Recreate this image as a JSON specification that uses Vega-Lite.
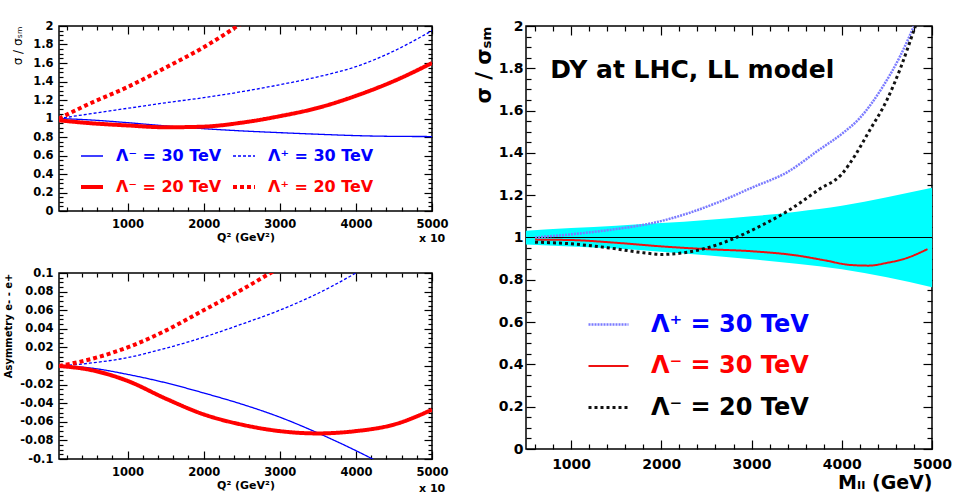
{
  "$schema": "https://vega.github.io/schema/vega-lite/v6.json",
  "padding": {"left": 3, "top": 18, "right": 5, "bottom": 5},
  "autosize": {"type": "pad"},
  "background": "white",
  "config": {
    "font": "DejaVu Sans",
    "view": {"stroke": "black", "strokeWidth": 1.5},
    "axis": {"domain": false, "grid": false, "ticks": true, "tickColor": "black", "tickWidth": 1.2, "labelFont": "DejaVu Sans", "labelFontWeight": "bold", "labelColor": "black", "titleFont": "DejaVu Sans", "titleFontWeight": "bold", "titleColor": "black", "labelFlush": false, "labelOverlap": false, "format": "d", "zindex": 1},
    "legend": {"labelFont": "DejaVu Sans", "labelFontWeight": "bold"}
  },
  "datasets": {
    "tl": [
      {"series": "Λ⁻ = 30 TeV", "q2": 100, "ratio": 1.0}, {"series": "Λ⁻ = 30 TeV", "q2": 500, "ratio": 0.985}, {"series": "Λ⁻ = 30 TeV", "q2": 1000, "ratio": 0.955}, {"series": "Λ⁻ = 30 TeV", "q2": 1500, "ratio": 0.92}, {"series": "Λ⁻ = 30 TeV", "q2": 2000, "ratio": 0.89}, {"series": "Λ⁻ = 30 TeV", "q2": 2500, "ratio": 0.866}, {"series": "Λ⁻ = 30 TeV", "q2": 3000, "ratio": 0.847}, {"series": "Λ⁻ = 30 TeV", "q2": 3500, "ratio": 0.83}, {"series": "Λ⁻ = 30 TeV", "q2": 4000, "ratio": 0.815}, {"series": "Λ⁻ = 30 TeV", "q2": 4500, "ratio": 0.807}, {"series": "Λ⁻ = 30 TeV", "q2": 5000, "ratio": 0.805},
      {"series": "Λ⁺ = 30 TeV", "q2": 100, "ratio": 1.0}, {"series": "Λ⁺ = 30 TeV", "q2": 500, "ratio": 1.05}, {"series": "Λ⁺ = 30 TeV", "q2": 1000, "ratio": 1.11}, {"series": "Λ⁺ = 30 TeV", "q2": 1500, "ratio": 1.17}, {"series": "Λ⁺ = 30 TeV", "q2": 2000, "ratio": 1.225}, {"series": "Λ⁺ = 30 TeV", "q2": 2500, "ratio": 1.29}, {"series": "Λ⁺ = 30 TeV", "q2": 3000, "ratio": 1.365}, {"series": "Λ⁺ = 30 TeV", "q2": 3500, "ratio": 1.45}, {"series": "Λ⁺ = 30 TeV", "q2": 4000, "ratio": 1.56}, {"series": "Λ⁺ = 30 TeV", "q2": 4500, "ratio": 1.73}, {"series": "Λ⁺ = 30 TeV", "q2": 5000, "ratio": 1.95},
      {"series": "Λ⁻ = 20 TeV", "q2": 100, "ratio": 0.98}, {"series": "Λ⁻ = 20 TeV", "q2": 500, "ratio": 0.95}, {"series": "Λ⁻ = 20 TeV", "q2": 1000, "ratio": 0.925}, {"series": "Λ⁻ = 20 TeV", "q2": 1500, "ratio": 0.905}, {"series": "Λ⁻ = 20 TeV", "q2": 2000, "ratio": 0.912}, {"series": "Λ⁻ = 20 TeV", "q2": 2500, "ratio": 0.955}, {"series": "Λ⁻ = 20 TeV", "q2": 3000, "ratio": 1.025}, {"series": "Λ⁻ = 20 TeV", "q2": 3500, "ratio": 1.115}, {"series": "Λ⁻ = 20 TeV", "q2": 4000, "ratio": 1.245}, {"series": "Λ⁻ = 20 TeV", "q2": 4500, "ratio": 1.405}, {"series": "Λ⁻ = 20 TeV", "q2": 5000, "ratio": 1.6},
      {"series": "Λ⁺ = 20 TeV", "q2": 100, "ratio": 1.0}, {"series": "Λ⁺ = 20 TeV", "q2": 500, "ratio": 1.16}, {"series": "Λ⁺ = 20 TeV", "q2": 1000, "ratio": 1.34}, {"series": "Λ⁺ = 20 TeV", "q2": 1500, "ratio": 1.55}, {"series": "Λ⁺ = 20 TeV", "q2": 2000, "ratio": 1.77}, {"series": "Λ⁺ = 20 TeV", "q2": 2500, "ratio": 2.03}
    ],
    "bl": [
      {"series": "Λ⁻ = 30 TeV", "q2": 100, "asym": 0}, {"series": "Λ⁻ = 30 TeV", "q2": 500, "asym": -0.002}, {"series": "Λ⁻ = 30 TeV", "q2": 1000, "asym": -0.009}, {"series": "Λ⁻ = 30 TeV", "q2": 1500, "asym": -0.018}, {"series": "Λ⁻ = 30 TeV", "q2": 2000, "asym": -0.029}, {"series": "Λ⁻ = 30 TeV", "q2": 2500, "asym": -0.041}, {"series": "Λ⁻ = 30 TeV", "q2": 3000, "asym": -0.055}, {"series": "Λ⁻ = 30 TeV", "q2": 3500, "asym": -0.072}, {"series": "Λ⁻ = 30 TeV", "q2": 4000, "asym": -0.091}, {"series": "Λ⁻ = 30 TeV", "q2": 4500, "asym": -0.112},
      {"series": "Λ⁺ = 30 TeV", "q2": 100, "asym": 0}, {"series": "Λ⁺ = 30 TeV", "q2": 500, "asym": 0.003}, {"series": "Λ⁺ = 30 TeV", "q2": 1000, "asym": 0.009}, {"series": "Λ⁺ = 30 TeV", "q2": 1500, "asym": 0.019}, {"series": "Λ⁺ = 30 TeV", "q2": 2000, "asym": 0.031}, {"series": "Λ⁺ = 30 TeV", "q2": 2500, "asym": 0.045}, {"series": "Λ⁺ = 30 TeV", "q2": 3000, "asym": 0.06}, {"series": "Λ⁺ = 30 TeV", "q2": 3500, "asym": 0.078}, {"series": "Λ⁺ = 30 TeV", "q2": 4000, "asym": 0.1}, {"series": "Λ⁺ = 30 TeV", "q2": 4500, "asym": 0.125},
      {"series": "Λ⁻ = 20 TeV", "q2": 100, "asym": 0}, {"series": "Λ⁻ = 20 TeV", "q2": 500, "asym": -0.004}, {"series": "Λ⁻ = 20 TeV", "q2": 1000, "asym": -0.016}, {"series": "Λ⁻ = 20 TeV", "q2": 1500, "asym": -0.035}, {"series": "Λ⁻ = 20 TeV", "q2": 2000, "asym": -0.052}, {"series": "Λ⁻ = 20 TeV", "q2": 2500, "asym": -0.063}, {"series": "Λ⁻ = 20 TeV", "q2": 3000, "asym": -0.07}, {"series": "Λ⁻ = 20 TeV", "q2": 3500, "asym": -0.0725}, {"series": "Λ⁻ = 20 TeV", "q2": 4000, "asym": -0.07}, {"series": "Λ⁻ = 20 TeV", "q2": 4500, "asym": -0.063}, {"series": "Λ⁻ = 20 TeV", "q2": 5000, "asym": -0.047},
      {"series": "Λ⁺ = 20 TeV", "q2": 100, "asym": 0}, {"series": "Λ⁺ = 20 TeV", "q2": 500, "asym": 0.007}, {"series": "Λ⁺ = 20 TeV", "q2": 1000, "asym": 0.02}, {"series": "Λ⁺ = 20 TeV", "q2": 1500, "asym": 0.038}, {"series": "Λ⁺ = 20 TeV", "q2": 2000, "asym": 0.06}, {"series": "Λ⁺ = 20 TeV", "q2": 2500, "asym": 0.082}, {"series": "Λ⁺ = 20 TeV", "q2": 3000, "asym": 0.106}
    ],
    "band": [
      {"m": 500, "lo": 0.967, "hi": 1.032}, {"m": 1000, "lo": 0.958, "hi": 1.045}, {"m": 1500, "lo": 0.948, "hi": 1.056}, {"m": 2000, "lo": 0.933, "hi": 1.068}, {"m": 2500, "lo": 0.916, "hi": 1.083}, {"m": 3000, "lo": 0.897, "hi": 1.1}, {"m": 3500, "lo": 0.876, "hi": 1.122}, {"m": 4000, "lo": 0.85, "hi": 1.15}, {"m": 4500, "lo": 0.812, "hi": 1.19}, {"m": 5000, "lo": 0.765, "hi": 1.235}
    ],
    "rc": [
      {"series": "Λ⁺ = 30 TeV", "m": 600, "ratio": 1.0}, {"series": "Λ⁺ = 30 TeV", "m": 1000, "ratio": 1.015}, {"series": "Λ⁺ = 30 TeV", "m": 1500, "ratio": 1.04}, {"series": "Λ⁺ = 30 TeV", "m": 1900, "ratio": 1.068}, {"series": "Λ⁺ = 30 TeV", "m": 2300, "ratio": 1.115}, {"series": "Λ⁺ = 30 TeV", "m": 2650, "ratio": 1.17}, {"series": "Λ⁺ = 30 TeV", "m": 3000, "ratio": 1.235}, {"series": "Λ⁺ = 30 TeV", "m": 3400, "ratio": 1.31}, {"series": "Λ⁺ = 30 TeV", "m": 3750, "ratio": 1.415}, {"series": "Λ⁺ = 30 TeV", "m": 4000, "ratio": 1.49}, {"series": "Λ⁺ = 30 TeV", "m": 4200, "ratio": 1.565}, {"series": "Λ⁺ = 30 TeV", "m": 4450, "ratio": 1.71}, {"series": "Λ⁺ = 30 TeV", "m": 4650, "ratio": 1.86}, {"series": "Λ⁺ = 30 TeV", "m": 4800, "ratio": 2.0}, {"series": "Λ⁺ = 30 TeV", "m": 4900, "ratio": 2.1},
      {"series": "Λ⁻ = 30 TeV", "m": 600, "ratio": 0.99}, {"series": "Λ⁻ = 30 TeV", "m": 1000, "ratio": 0.988}, {"series": "Λ⁻ = 30 TeV", "m": 1500, "ratio": 0.975}, {"series": "Λ⁻ = 30 TeV", "m": 2000, "ratio": 0.958}, {"series": "Λ⁻ = 30 TeV", "m": 2500, "ratio": 0.945}, {"series": "Λ⁻ = 30 TeV", "m": 3000, "ratio": 0.935}, {"series": "Λ⁻ = 30 TeV", "m": 3500, "ratio": 0.915}, {"series": "Λ⁻ = 30 TeV", "m": 3800, "ratio": 0.893}, {"series": "Λ⁻ = 30 TeV", "m": 4100, "ratio": 0.87}, {"series": "Λ⁻ = 30 TeV", "m": 4300, "ratio": 0.867}, {"series": "Λ⁻ = 30 TeV", "m": 4500, "ratio": 0.88}, {"series": "Λ⁻ = 30 TeV", "m": 4700, "ratio": 0.9}, {"series": "Λ⁻ = 30 TeV", "m": 4950, "ratio": 0.945},
      {"series": "Λ⁻ = 20 TeV", "m": 600, "ratio": 0.978}, {"series": "Λ⁻ = 20 TeV", "m": 1000, "ratio": 0.97}, {"series": "Λ⁻ = 20 TeV", "m": 1400, "ratio": 0.952}, {"series": "Λ⁻ = 20 TeV", "m": 1800, "ratio": 0.928}, {"series": "Λ⁻ = 20 TeV", "m": 2000, "ratio": 0.92}, {"series": "Λ⁻ = 20 TeV", "m": 2250, "ratio": 0.928}, {"series": "Λ⁻ = 20 TeV", "m": 2500, "ratio": 0.95}, {"series": "Λ⁻ = 20 TeV", "m": 2830, "ratio": 1.0}, {"series": "Λ⁻ = 20 TeV", "m": 3100, "ratio": 1.055}, {"series": "Λ⁻ = 20 TeV", "m": 3400, "ratio": 1.125}, {"series": "Λ⁻ = 20 TeV", "m": 3750, "ratio": 1.228}, {"series": "Λ⁻ = 20 TeV", "m": 4000, "ratio": 1.3}, {"series": "Λ⁻ = 20 TeV", "m": 4150, "ratio": 1.39}, {"series": "Λ⁻ = 20 TeV", "m": 4300, "ratio": 1.5}, {"series": "Λ⁻ = 20 TeV", "m": 4500, "ratio": 1.65}, {"series": "Λ⁻ = 20 TeV", "m": 4650, "ratio": 1.8}, {"series": "Λ⁻ = 20 TeV", "m": 4800, "ratio": 1.98}, {"series": "Λ⁻ = 20 TeV", "m": 4850, "ratio": 2.04}
    ]
  },
  "spacing": 23,
  "resolve": {"scale": {"color": "independent", "strokeDash": "independent", "strokeWidth": "independent", "x": "independent", "y": "independent"}, "legend": {"color": "independent", "strokeDash": "independent", "strokeWidth": "independent"}},
  "hconcat": [
    {
      "bounds": "flush",
      "spacing": 62,
      "resolve": {"scale": {"color": "independent", "strokeDash": "independent", "strokeWidth": "independent", "x": "independent", "y": "independent"}, "legend": {"color": "independent", "strokeDash": "independent", "strokeWidth": "independent"}},
      "vconcat": [
        {
          "width": 373,
          "height": 185,
          "data": {"name": "tl"},
          "resolve": {"axis": {"x": "independent", "y": "independent"}},
          "layer": [
            {
              "mark": {"type": "line", "clip": true, "interpolate": "monotone"},
              "encoding": {
                "x": {"field": "q2", "type": "quantitative", "scale": {"domain": [100, 5000], "nice": false, "zero": false},
                  "axis": {"orient": "bottom", "values": [1000, 2000, 3000, 4000, 5000], "offset": -8, "tickSize": 8, "labelPadding": 7, "labelFontSize": 11.5, "title": "Q² (GeV²)", "titleFontSize": 11, "titlePadding": 2}},
                "y": {"field": "ratio", "type": "quantitative", "scale": {"domain": [0, 2], "nice": false, "zero": false},
                  "axis": {"orient": "left", "values": [0, 0.2, 0.4, 0.6, 0.8, 1, 1.2, 1.4, 1.6, 1.8, 2], "labelExpr": "'' + datum.value", "offset": -8, "tickSize": 8, "labelPadding": 6, "labelFontSize": 11.5, "title": "σ / σₛₘ", "titleAnchor": "end", "titleFontSize": 12, "titleFontWeight": "normal", "titlePadding": 8}},
                "color": {"field": "series", "type": "nominal",
                  "scale": {"domain": ["Λ⁻ = 30 TeV", "Λ⁻ = 20 TeV", "Λ⁺ = 30 TeV", "Λ⁺ = 20 TeV"], "range": ["#0000ff", "#ff0000", "#0000ff", "#ff0000"]},
                  "legend": {"orient": "none", "legendX": 20, "legendY": 118, "columns": 2, "title": null, "symbolType": "stroke", "symbolSize": 484, "labelFontSize": 16, "labelOffset": 11, "columnPadding": 3, "rowPadding": 10, "padding": 0, "labelLimit": 400,
                    "encode": {"labels": {"update": {"fill": {"signal": "indexof(datum.label, '30') >= 0 ? '#0000ff' : '#ff0000'"}}}}}},
                "strokeDash": {"field": "series", "type": "nominal", "scale": {"domain": ["Λ⁻ = 30 TeV", "Λ⁻ = 20 TeV", "Λ⁺ = 30 TeV", "Λ⁺ = 20 TeV"], "range": [[1, 0], [1, 0], [3, 2], [4, 3]]}},
                "strokeWidth": {"field": "series", "type": "nominal", "scale": {"type": "ordinal", "domain": ["Λ⁻ = 30 TeV", "Λ⁻ = 20 TeV", "Λ⁺ = 30 TeV", "Λ⁺ = 20 TeV"], "range": [1.3, 4, 1.3, 4]}}
              }
            },
            {
              "mark": {"type": "point", "opacity": 0, "clip": true},
              "encoding": {
                "x": {"field": "q2", "type": "quantitative", "axis": {"orient": "top", "values": [1000, 2000, 3000, 4000, 5000], "offset": -8, "tickSize": 8, "labels": false, "title": null}},
                "y": {"field": "ratio", "type": "quantitative", "axis": {"orient": "right", "values": [0, 0.2, 0.4, 0.6, 0.8, 1, 1.2, 1.4, 1.6, 1.8, 2], "offset": -8, "tickSize": 8, "labels": false, "title": null}}
              }
            },
            {
              "mark": {"type": "point", "opacity": 0, "clip": true},
              "encoding": {
                "x": {"field": "q2", "type": "quantitative", "axis": {"orient": "bottom", "values": [200,400,600,800,1200,1400,1600,1800,2200,2400,2600,2800,3200,3400,3600,3800,4200,4400,4600,4800], "offset": -4, "tickSize": 4, "labels": false, "title": null}},
                "y": {"field": "ratio", "type": "quantitative", "axis": {"orient": "left", "values": [0.05,0.1,0.15,0.25,0.3,0.35,0.45,0.5,0.55,0.65,0.7,0.75,0.85,0.9,0.95,1.05,1.1,1.15,1.25,1.3,1.35,1.45,1.5,1.55,1.65,1.7,1.75,1.85,1.9,1.95], "offset": -4, "tickSize": 4, "labels": false, "title": null}}
              }
            },
            {
              "mark": {"type": "point", "opacity": 0, "clip": true},
              "encoding": {
                "x": {"field": "q2", "type": "quantitative", "axis": {"orient": "top", "values": [200,400,600,800,1200,1400,1600,1800,2200,2400,2600,2800,3200,3400,3600,3800,4200,4400,4600,4800], "offset": -4, "tickSize": 4, "labels": false, "title": null}},
                "y": {"field": "ratio", "type": "quantitative", "axis": {"orient": "right", "values": [0.05,0.1,0.15,0.25,0.3,0.35,0.45,0.5,0.55,0.65,0.7,0.75,0.85,0.9,0.95,1.05,1.1,1.15,1.25,1.3,1.35,1.45,1.5,1.55,1.65,1.7,1.75,1.85,1.9,1.95], "offset": -4, "tickSize": 4, "labels": false, "title": null}}
              }
            },
            {
              "data": {"values": [{}]},
              "mark": {"type": "text", "text": "x 10", "fontWeight": "bold", "fontSize": 11, "align": "left", "baseline": "middle", "dx": -13, "dy": 28, "clip": false},
              "encoding": {"x": {"datum": 5000, "type": "quantitative", "axis": null}, "y": {"datum": 0, "type": "quantitative", "axis": null}}
            }
          ]
        },
        {
          "width": 373,
          "height": 186,
          "data": {"name": "bl"},
          "resolve": {"axis": {"x": "independent", "y": "independent"}},
          "layer": [
            {
              "mark": {"type": "line", "clip": true, "interpolate": "monotone"},
              "encoding": {
                "x": {"field": "q2", "type": "quantitative", "scale": {"domain": [100, 5000], "nice": false, "zero": false},
                  "axis": {"orient": "bottom", "values": [1000, 2000, 3000, 4000, 5000], "offset": -8, "tickSize": 8, "labelPadding": 7, "labelFontSize": 11.5, "title": "Q² (GeV²)", "titleFontSize": 11, "titlePadding": 2}},
                "y": {"field": "asym", "type": "quantitative", "scale": {"domain": [-0.1, 0.1], "nice": false, "zero": false},
                  "axis": {"orient": "left", "values": [-0.1, -0.08, -0.06, -0.04, -0.02, 0, 0.02, 0.04, 0.06, 0.08, 0.1], "labelExpr": "'' + datum.value", "offset": -8, "tickSize": 8, "labelPadding": 6, "labelFontSize": 11.5, "title": "Asymmetry e- - e+", "titleAnchor": "end", "titleFontSize": 10, "titlePadding": 6}},
                "color": {"field": "series", "type": "nominal", "legend": null,
                  "scale": {"domain": ["Λ⁻ = 30 TeV", "Λ⁺ = 30 TeV", "Λ⁻ = 20 TeV", "Λ⁺ = 20 TeV"], "range": ["#0000ff", "#0000ff", "#ff0000", "#ff0000"]}},
                "strokeDash": {"field": "series", "type": "nominal", "legend": null, "scale": {"domain": ["Λ⁻ = 30 TeV", "Λ⁺ = 30 TeV", "Λ⁻ = 20 TeV", "Λ⁺ = 20 TeV"], "range": [[1, 0], [3, 2], [1, 0], [4, 3]]}},
                "strokeWidth": {"field": "series", "type": "nominal", "legend": null, "scale": {"type": "ordinal", "domain": ["Λ⁻ = 30 TeV", "Λ⁺ = 30 TeV", "Λ⁻ = 20 TeV", "Λ⁺ = 20 TeV"], "range": [1.3, 1.3, 4, 4]}}
              }
            },
            {
              "mark": {"type": "point", "opacity": 0, "clip": true},
              "encoding": {
                "x": {"field": "q2", "type": "quantitative", "axis": {"orient": "top", "values": [1000, 2000, 3000, 4000, 5000], "offset": -8, "tickSize": 8, "labels": false, "title": null}},
                "y": {"field": "asym", "type": "quantitative", "axis": {"orient": "right", "values": [-0.1, -0.08, -0.06, -0.04, -0.02, 0, 0.02, 0.04, 0.06, 0.08, 0.1], "offset": -8, "tickSize": 8, "labels": false, "title": null}}
              }
            },
            {
              "mark": {"type": "point", "opacity": 0, "clip": true},
              "encoding": {
                "x": {"field": "q2", "type": "quantitative", "axis": {"orient": "bottom", "values": [200,400,600,800,1200,1400,1600,1800,2200,2400,2600,2800,3200,3400,3600,3800,4200,4400,4600,4800], "offset": -4, "tickSize": 4, "labels": false, "title": null}},
                "y": {"field": "asym", "type": "quantitative", "axis": {"orient": "left", "values": [-0.095,-0.09,-0.085,-0.075,-0.07,-0.065,-0.055,-0.05,-0.045,-0.035,-0.03,-0.025,-0.015,-0.01,-0.005,0.005,0.01,0.015,0.025,0.03,0.035,0.045,0.05,0.055,0.065,0.07,0.075,0.085,0.09,0.095], "offset": -4, "tickSize": 4, "labels": false, "title": null}}
              }
            },
            {
              "mark": {"type": "point", "opacity": 0, "clip": true},
              "encoding": {
                "x": {"field": "q2", "type": "quantitative", "axis": {"orient": "top", "values": [200,400,600,800,1200,1400,1600,1800,2200,2400,2600,2800,3200,3400,3600,3800,4200,4400,4600,4800], "offset": -4, "tickSize": 4, "labels": false, "title": null}},
                "y": {"field": "asym", "type": "quantitative", "axis": {"orient": "right", "values": [-0.095,-0.09,-0.085,-0.075,-0.07,-0.065,-0.055,-0.05,-0.045,-0.035,-0.03,-0.025,-0.015,-0.01,-0.005,0.005,0.01,0.015,0.025,0.03,0.035,0.045,0.05,0.055,0.065,0.07,0.075,0.085,0.09,0.095], "offset": -4, "tickSize": 4, "labels": false, "title": null}}
              }
            },
            {
              "data": {"values": [{}]},
              "mark": {"type": "text", "text": "x 10", "fontWeight": "bold", "fontSize": 11, "align": "left", "baseline": "middle", "dx": -13, "dy": 30, "clip": false},
              "encoding": {"x": {"datum": 5000, "type": "quantitative", "axis": null}, "y": {"datum": -0.1, "type": "quantitative", "axis": null}}
            }
          ]
        }
      ]
    },
    {
      "width": 406,
      "height": 423,
      "resolve": {"axis": {"x": "independent", "y": "independent"}},
      "layer": [
        {
          "data": {"name": "band"},
          "mark": {"type": "area", "color": "#00ffff", "opacity": 1, "interpolate": "monotone"},
          "encoding": {
            "x": {"field": "m", "type": "quantitative", "scale": {"domain": [500, 5000], "nice": false, "zero": false},
              "axis": {"orient": "bottom", "values": [1000, 2000, 3000, 4000, 5000], "offset": -9, "tickSize": 9, "labelPadding": 8, "labelFontSize": 14, "title": "Mₗₗ (GeV)", "titleAnchor": "end", "titleFontSize": 19, "titlePadding": 2}},
            "y": {"field": "lo", "type": "quantitative", "scale": {"domain": [0, 2], "nice": false, "zero": false},
              "axis": {"orient": "left", "values": [0, 0.2, 0.4, 0.6, 0.8, 1, 1.2, 1.4, 1.6, 1.8, 2], "labelExpr": "'' + datum.value", "offset": -9, "tickSize": 9, "labelPadding": 3, "labelFontSize": 14, "title": "σ / σₛₘ", "titleAnchor": "end", "titleFontSize": 21, "titlePadding": 4}},
            "y2": {"field": "hi"}
          }
        },
        {
          "data": {"values": [{}]},
          "mark": {"type": "rule", "color": "black", "strokeWidth": 1.2},
          "encoding": {"y": {"datum": 1, "type": "quantitative", "axis": null}}
        },
        {
          "data": {"name": "rc"},
          "mark": {"type": "line", "clip": true, "interpolate": "monotone"},
          "encoding": {
            "x": {"field": "m", "type": "quantitative", "axis": null},
            "y": {"field": "ratio", "type": "quantitative", "axis": null},
            "color": {"field": "series", "type": "nominal",
              "scale": {"domain": ["Λ⁺ = 30 TeV", "Λ⁻ = 30 TeV", "Λ⁻ = 20 TeV"], "range": ["#7b7bff", "#ee1111", "#111111"]},
              "legend": {"orient": "none", "legendX": 61, "legendY": 277, "title": null, "symbolType": "stroke", "symbolSize": 1600, "labelFontSize": 24, "labelOffset": 21, "rowPadding": 8, "padding": 0, "labelLimit": 400,
                "encode": {"labels": {"update": {"fill": {"signal": "indexof(datum.label, '⁺') >= 0 ? '#0000ff' : (indexof(datum.label, '20') >= 0 ? '#000000' : '#ff0000')"}}}}}},
            "strokeDash": {"field": "series", "type": "nominal", "scale": {"domain": ["Λ⁺ = 30 TeV", "Λ⁻ = 30 TeV", "Λ⁻ = 20 TeV"], "range": [[2, 1], [1, 0], [3, 3]]}},
            "strokeWidth": {"field": "series", "type": "nominal", "scale": {"type": "ordinal", "domain": ["Λ⁺ = 30 TeV", "Λ⁻ = 30 TeV", "Λ⁻ = 20 TeV"], "range": [2.5, 2, 3]}}
          }
        },
        {
          "data": {"values": [{}]},
          "mark": {"type": "text", "text": "DY at LHC, LL model", "fontWeight": "bold", "fontSize": 25, "align": "left", "baseline": "middle", "color": "black"},
          "encoding": {"x": {"datum": 770, "type": "quantitative", "axis": null}, "y": {"datum": 1.79, "type": "quantitative", "axis": null}}
        },
        {
          "data": {"name": "band"},
          "mark": {"type": "point", "opacity": 0, "clip": true},
          "encoding": {
            "x": {"field": "m", "type": "quantitative", "axis": {"orient": "top", "values": [1000, 2000, 3000, 4000, 5000], "offset": -9, "tickSize": 9, "labels": false, "title": null}},
            "y": {"field": "lo", "type": "quantitative", "axis": {"orient": "right", "values": [0, 0.2, 0.4, 0.6, 0.8, 1, 1.2, 1.4, 1.6, 1.8, 2], "offset": -9, "tickSize": 9, "labels": false, "title": null}}
          }
        },
        {
          "data": {"name": "band"},
          "mark": {"type": "point", "opacity": 0, "clip": true},
          "encoding": {
            "x": {"field": "m", "type": "quantitative", "axis": {"orient": "bottom", "values": [600,800,1200,1400,1600,1800,2200,2400,2600,2800,3200,3400,3600,3800,4200,4400,4600,4800], "offset": -5, "tickSize": 5, "labels": false, "title": null}},
            "y": {"field": "lo", "type": "quantitative", "axis": {"orient": "left", "values": [0.05,0.1,0.15,0.25,0.3,0.35,0.45,0.5,0.55,0.65,0.7,0.75,0.85,0.9,0.95,1.05,1.1,1.15,1.25,1.3,1.35,1.45,1.5,1.55,1.65,1.7,1.75,1.85,1.9,1.95], "offset": -5, "tickSize": 5, "labels": false, "title": null}}
          }
        },
        {
          "data": {"name": "band"},
          "mark": {"type": "point", "opacity": 0, "clip": true},
          "encoding": {
            "x": {"field": "m", "type": "quantitative", "axis": {"orient": "top", "values": [600,800,1200,1400,1600,1800,2200,2400,2600,2800,3200,3400,3600,3800,4200,4400,4600,4800], "offset": -5, "tickSize": 5, "labels": false, "title": null}},
            "y": {"field": "lo", "type": "quantitative", "axis": {"orient": "right", "values": [0.05,0.1,0.15,0.25,0.3,0.35,0.45,0.5,0.55,0.65,0.7,0.75,0.85,0.9,0.95,1.05,1.1,1.15,1.25,1.3,1.35,1.45,1.5,1.55,1.65,1.7,1.75,1.85,1.9,1.95], "offset": -5, "tickSize": 5, "labels": false, "title": null}}
          }
        }
      ]
    }
  ]
}
